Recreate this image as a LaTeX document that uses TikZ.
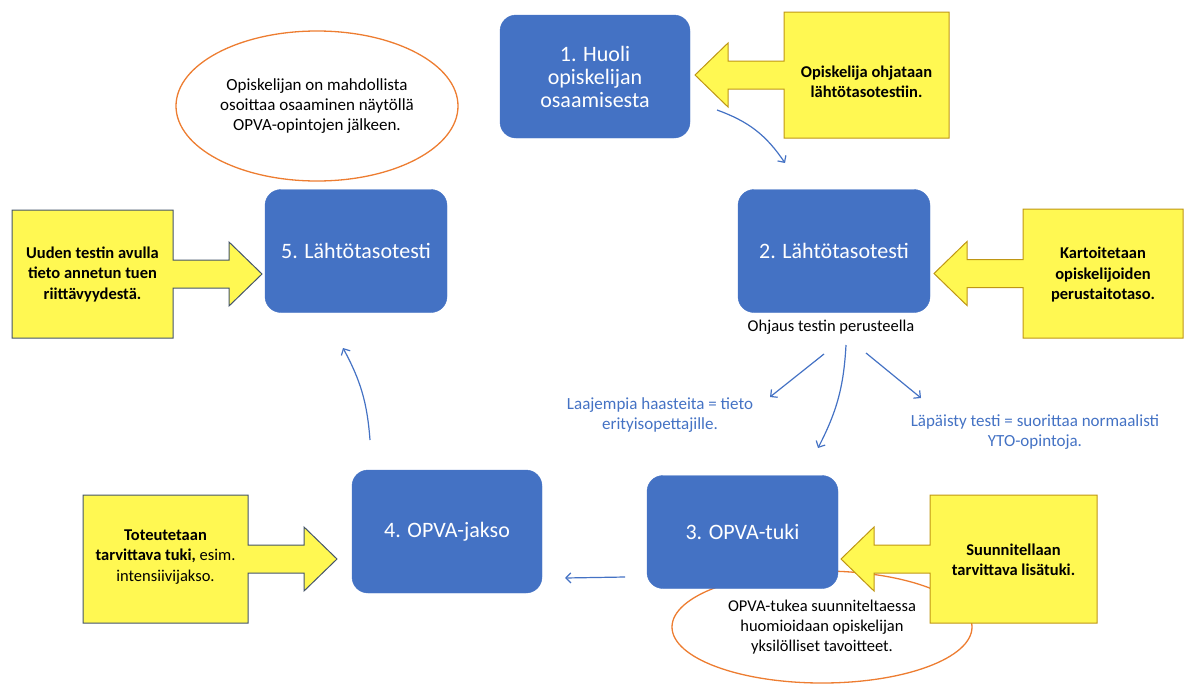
\documentclass[tikz,border=0pt]{standalone}
\usepackage{fontspec}
\setmainfont{Carlito}
\usetikzlibrary{arrows.meta,positioning,calc,shapes.geometric}

\definecolor{boxblue}{RGB}{68,114,196}
\definecolor{noteorange}{RGB}{237,125,49}
\definecolor{callyellow}{RGB}{255,248,82}
\definecolor{goldline}{RGB}{191,150,20}
\definecolor{slateline}{RGB}{68,84,106}

\begin{document}
\begin{tikzpicture}[x=1pt,y=-1pt,>={Straight Barb[length=5pt,width=10pt]},
 phase/.style={fill=boxblue,draw=boxblue,rounded corners=16pt,minimum width=190pt,minimum height=123pt,text=white,align=center,font=\fontsize{22}{23}\selectfont},
 calltext/.style={align=center,font=\fontsize{16.5}{20.5}\selectfont\bfseries},
 note/.style={draw=noteorange,line width=1.3pt,ellipse,inner sep=0pt,align=center,font=\fontsize{17}{20}\selectfont},
 flow/.style={->,draw=boxblue,line width=1.2pt},
 flowlabel/.style={text=boxblue,align=center,font=\fontsize{17}{20}\selectfont}]

\useasboundingbox (0,0) rectangle (1185,683);

% notes (behind the boxes)
\node[note,minimum width=282pt,minimum height=150pt] (note1) at (317,106) {Opiskelijan on mahdollista\\osoittaa osaaminen näytöllä\\OPVA-opintojen jälkeen.};
\node[note,minimum width=300pt,minimum height=112pt,font=\fontsize{16.5}{20}\selectfont] (note3) at (822,627) {OPVA-tukea suunniteltaessa\\huomioidaan opiskelijan\\yksilölliset tavoitteet.};

% yellow arrow callouts
\foreach \cx/\cy/\w/\h/\s/\lc in {866.5/75/165/126/1/goldline, 1103/273.5/160/129/1/goldline,
  1013.5/559/167/128/1/goldline, 92.5/274/161/128/-1/slateline, 165.5/559/165/128/-1/slateline}{
 \pgfmathsetmacro\hw{\w/2}
 \pgfmathsetmacro\hh{\h/2}
 \begin{scope}[shift={(\cx,\cy)},xscale=\s]
  \filldraw[fill=callyellow,draw=\lc,line width=1pt] (-\hw,-\hh) -- (\hw,-\hh) -- (\hw,\hh) -- (-\hw,\hh) -- (-\hw,14)
   -- ({-\hw-56},14) -- ({-\hw-56},32) -- ({-\hw-89},0) -- ({-\hw-56},-32) -- ({-\hw-56},-14) -- (-\hw,-14) -- cycle;
 \end{scope}
}
\node[calltext] (call1) at (866.5,82) {Opiskelija ohjataan\\lähtötasotestiin.};
\node[calltext] (call2) at (1103,275) {Kartoitetaan\\opiskelijoiden\\perustaitotaso.};
\node[calltext] (call3) at (1013.5,560) {Suunnitellaan\\tarvittava lisätuki.};
\node[calltext] (call5) at (92.5,274) {Uuden testin avulla\\tieto annetun tuen\\riittävyydestä.};
\node[calltext] (call4) at (165.5,557) {Toteutetaan\\tarvittava tuki, {\mdseries esim.}\\{\mdseries intensiivijakso.}};

% phases
\node[phase] (p1) at (595,76.5) {1. Huoli\\opiskelijan\\osaamisesta};
\node[phase,minimum width=192pt] (p2) at (834,251) {2. Lähtötasotesti};
\node[phase,minimum width=191pt,minimum height=113pt] (p3) at (742.5,532) {3. OPVA-tuki};
\node[phase] (p4) at (447,531.5) {4. OPVA-jakso};
\node[phase,minimum width=182pt] (p5) at (356,251) {5. Lähtötasotesti};

\node[font=\fontsize{16.5}{18}\selectfont] (guide) at (831,327) {Ohjaus testin perusteella};
\node[flowlabel] (wide) at (660,415) {Laajempia haasteita = tieto\\erityisopettajille.};
\node[flowlabel] (pass) at (1035,432) {Läpäisty testi = suorittaa normaalisti\\YTO-opintoja.};

% arrow ends
\coordinate (p1out) at (717,110);  \coordinate (p2in) at (785,163);
\coordinate (gl) at (824,354);     \coordinate (glend) at (770,397);
\coordinate (gm) at (846,345);     \coordinate (p3in) at (818,448);
\coordinate (gr) at (866,353);     \coordinate (grend) at (921,398);
\coordinate (p3out) at (625,577);  \coordinate (p4in) at (565,578);
\coordinate (p4out) at (370,440);  \coordinate (p5in) at (343,348);

\draw[flow] (p1out) to[bend left=18] (p2in);
\draw[flow] (gl) -- (glend);
\draw[flow] (gm) to[bend left=12] (p3in);
\draw[flow] (gr) -- (grend);
\draw[flow] (p3out) -- (p4in);
\draw[flow] (p4out) to[bend right=12] (p5in);

\end{tikzpicture}
\end{document}
